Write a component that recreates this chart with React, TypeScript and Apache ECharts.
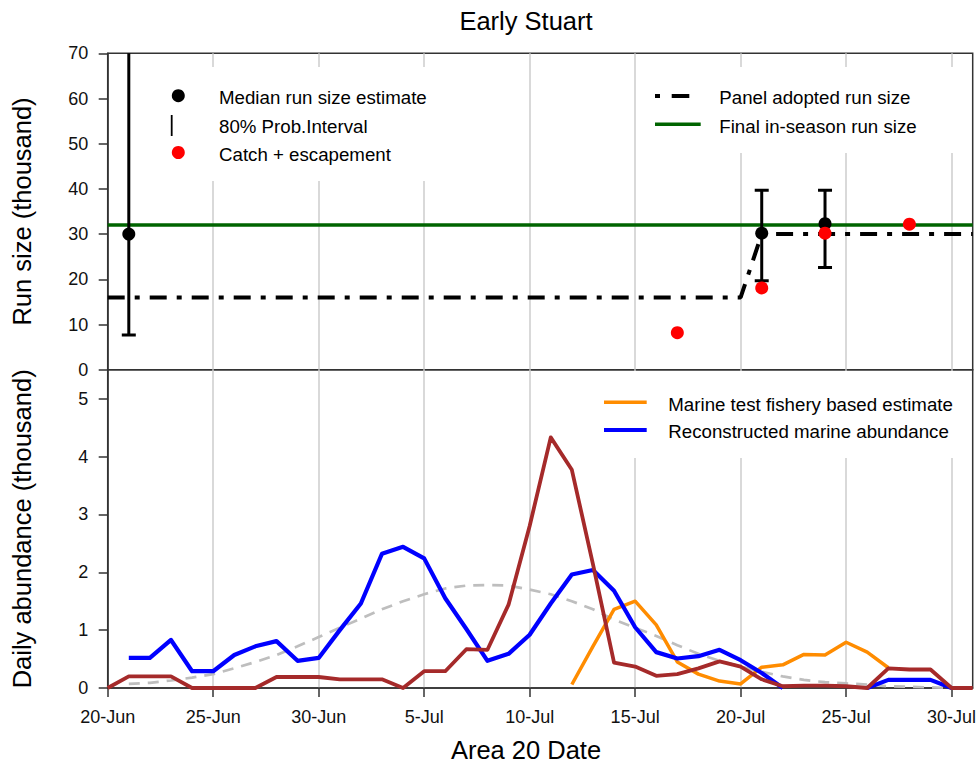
import { useEffect, useRef } from 'react';
import * as echarts from 'echarts';

const FONT = '"Liberation Sans", Arial, Helvetica, sans-serif';

// Area 20 dates shown on the shared x axis
const dates = [
  '20-Jun', '21-Jun', '22-Jun', '23-Jun', '24-Jun', '25-Jun', '26-Jun', '27-Jun', '28-Jun', '29-Jun', '30-Jun',
  '1-Jul', '2-Jul', '3-Jul', '4-Jul', '5-Jul', '6-Jul', '7-Jul', '8-Jul', '9-Jul', '10-Jul',
  '11-Jul', '12-Jul', '13-Jul', '14-Jul', '15-Jul', '16-Jul', '17-Jul', '18-Jul', '19-Jul', '20-Jul',
  '21-Jul', '22-Jul', '23-Jul', '24-Jul', '25-Jul', '26-Jul', '27-Jul', '28-Jul', '29-Jul', '30-Jul', '31-Jul',
];

// Upper panel: run size (thousand)
const medianDates = ['21-Jun', '21-Jul', '24-Jul'];
const medianRun = [30.0, 30.2, 32.3];
const intervalLow = [7.7, 19.7, 22.6];
const intervalHigh = [95, 39.7, 39.7];

const catchDates = ['17-Jul', '21-Jul', '24-Jul', '28-Jul'];
const catchEscapement = [8.2, 18.1, 30.2, 32.2];

const adoptedDates = ['20-Jun', '20-Jul', '21-Jul', '31-Jul'];
const adoptedRun = [16, 16, 30, 30];

const finalRunDates = ['20-Jun', '31-Jul'];
const finalRunSize = 32;

// Lower panel: daily abundance (thousand)
const testFisheryStart = '12-Jul';
const testFisheryEstimate = [0.06, 0.72, 1.36, 1.5, 1.09, 0.45, 0.24, 0.12, 0.07, 0.36, 0.4, 0.58, 0.57, 0.79, 0.62, 0.35];

const reconstructedStart = '21-Jun';
const reconstructedAbundance: (number | null)[] = [
  0.52, 0.52, 0.83, 0.29, 0.29, 0.57, 0.72, 0.81, 0.47, 0.52,
  1.0, 1.46, 2.32, 2.44, 2.24, 1.55, 1.02, 0.47, 0.59, 0.92,
  1.46, 1.96, 2.04, 1.68, 1.05, 0.62, 0.51, 0.55, 0.66, 0.48,
  0.26, 0, null, null, null, 0, 0.14, 0.14, 0.14, 0,
];

const area20Start = '20-Jun';
const area20Abundance = [
  0, 0.2, 0.2, 0.2, 0, 0, 0, 0, 0.19, 0.19,
  0.19, 0.15, 0.15, 0.15, 0, 0.29, 0.29, 0.67, 0.66, 1.44,
  2.8, 4.33, 3.77, 2.14, 0.44, 0.37, 0.21, 0.24, 0.34, 0.46,
  0.37, 0.15, 0.03, 0.04, 0.04, 0.03, 0, 0.34, 0.32, 0.32, 0, 0,
];

const expectedStart = '21-Jun';
const expectedTiming = [
  0.07, 0.09, 0.13, 0.18, 0.24, 0.34, 0.45, 0.57, 0.72, 0.88,
  1.04, 1.2, 1.36, 1.5, 1.62, 1.72, 1.77, 1.78, 1.77, 1.7,
  1.62, 1.5, 1.36, 1.18, 1.04, 0.9, 0.74, 0.59, 0.47, 0.37,
  0.28, 0.2, 0.14, 0.1, 0.08, 0.06, 0.03, 0.02, 0.01, 0,
];

const runTicks = [0, 10, 20, 30, 40, 50, 60, 70];
const abundanceTicks = [0, 1, 2, 3, 4, 5];

function fromStart(start: string, values: (number | null)[]) {
  const s = dates.indexOf(start);
  return values.map((v, i) => [dates[s + i], v === null ? '-' : v]);
}

function pairs(xs: string[], ys: number[]) {
  return xs.map((x, i) => [x, ys[i]]);
}

const GRID_LEFT = 107.7;
const GRID_W = 865;
const TOP_Y = 53.3;
const MID_Y = 369.7;
const BOT_Y = 688;

const axisColor = '#333333';
const gridColor = '#CCCCCC';
const every5 = (i: number) => i % 5 === 0;

function legendText(text: string, x: number, y: number) {
  return {
    type: 'text',
    x,
    y,
    z: 11,
    style: { text, fill: '#000', fontSize: 18.7, fontFamily: FONT, align: 'left', verticalAlign: 'middle' },
  };
}

function legendLine(x1: number, x2: number, y: number, color: string, width: number) {
  return {
    type: 'line',
    z: 11,
    shape: { x1, y1: y, x2, y2: y },
    style: { stroke: color, lineWidth: width, lineCap: 'butt' },
  };
}

function buildOption() {
  const xAxisBase = {
    type: 'category',
    data: dates,
    boundaryGap: false,
    splitLine: {
      show: true,
      interval: (i: number) => i % 5 === 0 && i > 0 && i < dates.length - 1,
      lineStyle: { color: gridColor, width: 1.5 },
    },
  };

  return {
    animation: false,
    backgroundColor: '#ffffff',
    textStyle: { fontFamily: FONT },
    grid: [
      {
        left: GRID_LEFT, top: TOP_Y, width: GRID_W, height: MID_Y - TOP_Y,
        show: true, borderColor: axisColor, borderWidth: 1.5, backgroundColor: 'transparent',
        outerBoundsMode: 'none',
      },
      {
        left: GRID_LEFT, top: MID_Y, width: GRID_W, height: BOT_Y - MID_Y,
        show: true, borderColor: axisColor, borderWidth: 1.5, backgroundColor: 'transparent',
        outerBoundsMode: 'none',
      },
    ],
    xAxis: [
      {
        ...xAxisBase,
        gridIndex: 0,
        axisLine: { show: false },
        axisTick: { show: false },
        axisLabel: { show: false },
      },
      {
        ...xAxisBase,
        gridIndex: 1,
        axisLine: { show: true, lineStyle: { color: axisColor, width: 1.5 } },
        axisTick: { show: true, interval: every5, length: 9, lineStyle: { color: axisColor, width: 1.5 } },
        axisLabel: { show: true, interval: every5, margin: 19.5, fontSize: 18, color: '#111', fontFamily: FONT },
      },
    ],
    yAxis: [
      {
        type: 'value',
        gridIndex: 0,
        min: 0,
        max: 70,
        interval: 10,
        name: 'Run size (thousand)',
        nameLocation: 'middle',
        nameRotate: 90,
        nameGap: 73,
        nameTextStyle: { fontSize: 25.5, color: '#000', fontFamily: FONT },
        splitLine: { show: false },
        axisLine: { show: true, lineStyle: { color: axisColor, width: 1.5 } },
        axisTick: { show: true, length: 9, lineStyle: { color: axisColor, width: 1.5 }, customValues: runTicks },
        axisLabel: { margin: 19.5, fontSize: 18, color: '#111', fontFamily: FONT, customValues: runTicks },
      },
      {
        type: 'value',
        gridIndex: 1,
        min: 0,
        max: 5.5,
        interval: 1,
        name: 'Daily abundance (thousand)',
        nameLocation: 'middle',
        nameRotate: 90,
        nameGap: 73,
        nameTextStyle: { fontSize: 25.5, color: '#000', fontFamily: FONT },
        splitLine: { show: false },
        axisLine: { show: true, lineStyle: { color: axisColor, width: 1.5 } },
        axisTick: { show: true, length: 9, lineStyle: { color: axisColor, width: 1.5 }, customValues: abundanceTicks },
        axisLabel: {
          margin: 19.5, fontSize: 18, color: '#111', fontFamily: FONT, customValues: abundanceTicks,
          formatter: (v: number) => (Number.isInteger(v) ? String(v) : ''),
        },
      },
    ],
    series: [
      {
        name: 'Final in-season run size',
        type: 'line',
        xAxisIndex: 0,
        yAxisIndex: 0,
        data: finalRunDates.map((d) => [d, finalRunSize]),
        showSymbol: false,
        lineStyle: { color: '#006400', width: 3.5 },
        z: 2,
      },
      {
        name: 'Panel adopted run size',
        type: 'line',
        xAxisIndex: 0,
        yAxisIndex: 0,
        data: pairs(adoptedDates, adoptedRun),
        showSymbol: false,
        lineStyle: { color: '#000', width: 4, type: [17, 10, 5, 10], cap: 'butt' },
        z: 3,
      },
      {
        name: '80% Prob.Interval',
        type: 'custom',
        xAxisIndex: 0,
        yAxisIndex: 0,
        clip: true,
        data: medianDates.map((d, i) => [d, intervalLow[i], intervalHigh[i]]),
        encode: { x: 0, y: [1, 2] },
        renderItem: (_params: any, api: any) => {
          const x = api.value(0);
          const lo = api.coord([x, api.value(1)]);
          const hi = api.coord([x, api.value(2)]);
          const half = 7;
          const style = { stroke: '#000', lineWidth: 3 };
          return {
            type: 'group',
            children: [
              { type: 'line', shape: { x1: lo[0], y1: lo[1], x2: hi[0], y2: hi[1] }, style },
              { type: 'line', shape: { x1: lo[0] - half, y1: lo[1], x2: lo[0] + half, y2: lo[1] }, style },
              { type: 'line', shape: { x1: hi[0] - half, y1: hi[1], x2: hi[0] + half, y2: hi[1] }, style },
            ],
          };
        },
        z: 4,
      },
      {
        name: 'Median run size estimate',
        type: 'scatter',
        xAxisIndex: 0,
        yAxisIndex: 0,
        data: pairs(medianDates, medianRun),
        symbol: 'circle',
        symbolSize: 13,
        itemStyle: { color: '#000', opacity: 1 },
        z: 5,
      },
      {
        name: 'Catch + escapement',
        type: 'scatter',
        xAxisIndex: 0,
        yAxisIndex: 0,
        data: pairs(catchDates, catchEscapement),
        symbol: 'circle',
        symbolSize: 13,
        itemStyle: { color: '#FF0000', opacity: 1 },
        z: 6,
      },
      {
        name: 'Expected timing',
        type: 'line',
        xAxisIndex: 1,
        yAxisIndex: 1,
        data: fromStart(expectedStart, expectedTiming),
        showSymbol: false,
        lineStyle: { color: '#BEBEBE', width: 2.7, type: [11, 8] },
        z: 2,
      },
      {
        name: 'Marine test fishery based estimate',
        type: 'line',
        xAxisIndex: 1,
        yAxisIndex: 1,
        data: fromStart(testFisheryStart, testFisheryEstimate),
        showSymbol: false,
        lineStyle: { color: '#FF8C00', width: 3.5, join: 'round' },
        z: 3,
      },
      {
        name: 'Reconstructed marine abundance',
        type: 'line',
        xAxisIndex: 1,
        yAxisIndex: 1,
        data: fromStart(reconstructedStart, reconstructedAbundance),
        showSymbol: false,
        connectNulls: false,
        lineStyle: { color: '#0000FF', width: 4.2, join: 'round' },
        z: 4,
      },
      {
        name: 'Area 20 abundance',
        type: 'line',
        xAxisIndex: 1,
        yAxisIndex: 1,
        data: fromStart(area20Start, area20Abundance),
        showSymbol: false,
        lineStyle: { color: '#A52A2A', width: 3.8, join: 'round' },
        z: 5,
      },
    ],
    graphic: [
      {
        type: 'text',
        x: 526,
        y: 21,
        style: { text: 'Early Stuart', fill: '#000', fontSize: 25.5, fontFamily: FONT, align: 'center', verticalAlign: 'middle' },
      },
      {
        type: 'text',
        x: 526,
        y: 750,
        style: { text: 'Area 20 Date', fill: '#000', fontSize: 25.5, fontFamily: FONT, align: 'center', verticalAlign: 'middle' },
      },
      // legend backgrounds
      { type: 'rect', z: 10, shape: { x: 140, y: 67, width: 330, height: 114 }, style: { fill: '#fff' } },
      { type: 'rect', z: 10, shape: { x: 640, y: 67, width: 328, height: 86 }, style: { fill: '#fff' } },
      { type: 'rect', z: 10, shape: { x: 590, y: 371, width: 378, height: 87 }, style: { fill: '#fff' } },
      // upper-left legend
      { type: 'circle', z: 11, shape: { cx: 178.3, cy: 95.7, r: 6.5 }, style: { fill: '#000' } },
      { type: 'line', z: 11, shape: { x1: 171.7, y1: 115, x2: 171.7, y2: 136 }, style: { stroke: '#000', lineWidth: 1.8 } },
      { type: 'circle', z: 11, shape: { cx: 178.3, cy: 152.5, r: 6.5 }, style: { fill: '#FF0000' } },
      legendText('Median run size estimate', 219, 97.7),
      legendText('80% Prob.Interval', 219, 126),
      legendText('Catch + escapement', 219, 154.3),
      // upper-right legend
      legendLine(655, 660, 96, '#000', 4),
      legendLine(671.7, 689.3, 96, '#000', 4),
      legendLine(655, 700.7, 124.3, '#006400', 3.5),
      legendText('Panel adopted run size', 719.3, 97.7),
      legendText('Final in-season run size', 719.3, 126),
      // lower legend
      legendLine(604, 646.7, 402.3, '#FF8C00', 3.5),
      legendLine(604, 646.7, 430, '#0000FF', 4.2),
      legendText('Marine test fishery based estimate', 668.3, 404.3),
      legendText('Reconstructed marine abundance', 668.3, 431.7),
    ],
  };
}

export default function App() {
  const ref = useRef<HTMLDivElement>(null);

  useEffect(() => {
    if (!ref.current) return;
    const chart = echarts.init(ref.current, null, { renderer: 'svg' });
    chart.setOption(buildOption() as any);
    return () => chart.dispose();
  }, []);

  return (
    <div
      ref={ref}
      style={{ position: 'absolute', left: 0, top: 0, width: 977, height: 764, background: '#fff' }}
    />
  );
}
